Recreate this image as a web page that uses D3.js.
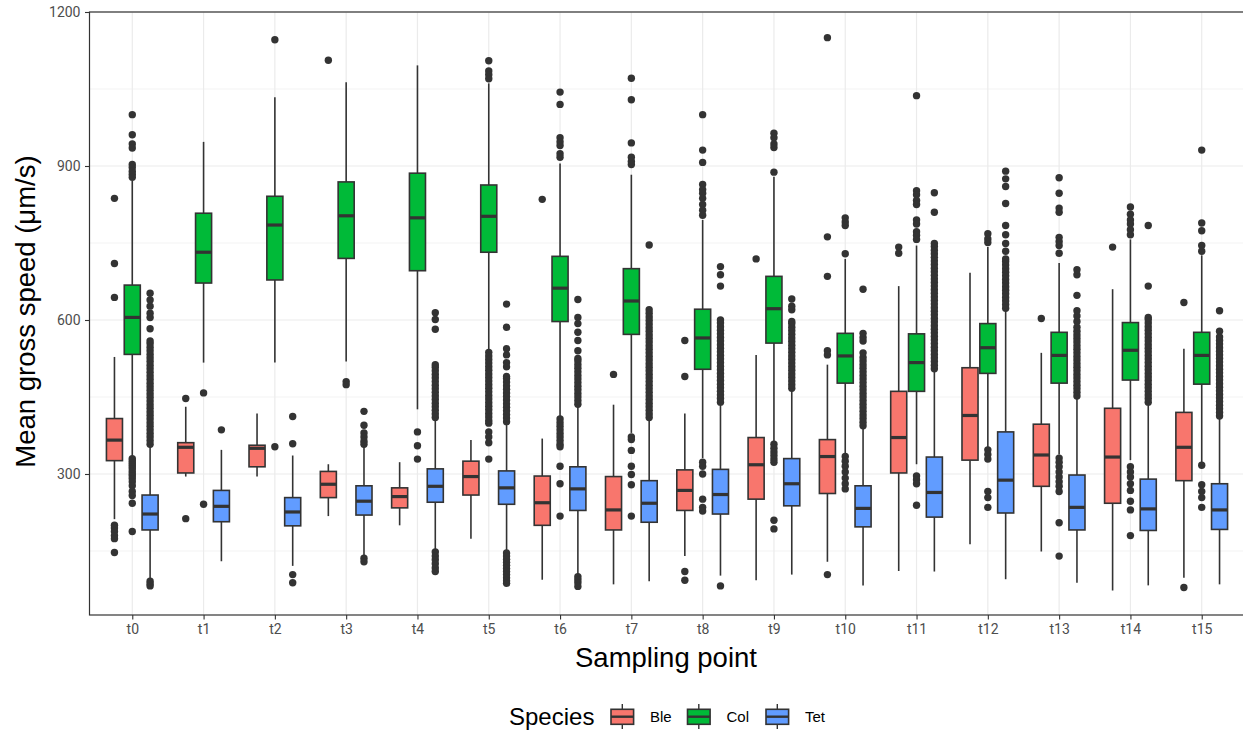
<!DOCTYPE html>
<meta charset="utf-8">
<style>
  html, body { margin: 0; padding: 0; background: #fff; overflow: hidden; }
  .axis text { font: 14px Roboto; fill: #4d4d4d; }
  .axis line { stroke: #333; stroke-width: 1.1px; }
  .title { font-family: "Liberation Sans", Arial, sans-serif; fill: #000; }
  .leg { font: 15px "Liberation Sans", Arial, sans-serif; fill: #000; }
</style>
<svg width="1243" height="735"></svg>
<script src="https://d3js.org/d3.v7.min.js"></script>
<script>

var timepoints = ["t0","t1","t2","t3","t4","t5","t6","t7","t8","t9","t10","t11","t12","t13","t14","t15"];
var species = ["Ble","Col","Tet"];
var colours = ["#F8766D","#00BA38","#619CFF"];
var yTicks = [300, 600, 900, 1200];
var yMinor = [150, 450, 750, 1050];

// [lower whisker, q1, median, q3, upper whisker]
var bleStats = [
  [212,326,366,408,528],[295,302,352,361,431],[295,314,350,356,418],[218,254,280,305,319],
  [200,234,256,273,323],[174,259,295,325,366],[94,200,244,296,369],[85,191,230,295,435],
  [140,229,268,308,418],[93,251,318,371,532],[129,262,334,367,513],[111,302,371,461,666],
  [163,327,414,507,692],[149,276,337,397,536],[73,243,333,428,660],[98,287,352,420,544]
];
var colStats = [
  [334,533,605,668,871],[517,672,732,808,947],[517,678,785,841,1034],[519,720,803,869,1063],
  [426,696,799,886,1096],[540,732,802,863,1061],[410,597,662,724,905],[380,572,637,700,883],
  [331,504,565,621,795],[363,555,622,685,879],[338,477,530,574,719],[319,461,517,573,745],
  [350,496,546,593,742],[338,477,531,576,711],[327,483,541,595,757],[323,475,531,576,726]
];
var tetStats = [
  [95,191,222,259,355],[130,207,237,268,347],[121,199,226,254,336],[140,220,247,277,353],
  [152,245,276,310,407],[148,241,273,306,399],[102,229,271,314,433],[91,206,243,287,407],
  [102,222,260,309,437],[104,238,281,330,464],[83,197,233,277,391],[110,216,264,333,502],
  [95,224,288,382,620],[88,191,235,298,449],[83,190,232,290,437],[85,192,230,281,410]
];

var bleOutliers = [
  [837,710,644,200,195,188,180,174,147],
  [447,213],
  [],
  [1106],
  [],
  [],
  [835],
  [494],
  [560,490,110,93],
  [719],
  [1150,762,685,540,532,104],
  [742,730],
  [],
  [603],
  [742],
  [634,79]
];
var colOutliers = [
  [1000,961,943,935,903,897,890,884,878,330,326,322,318,314,310,305,300,296,291,285,277,266,258,243,188],
  [458,241],
  [1146,353],
  [480,474],
  [382,355,329],
  [1105,1085,1078,1070,537,530,523,516,509,502,495,488,481,474,467,460,453,446,439,432,425,418,411,404,399,382,372,361,329],
  [1044,1020,955,947,940,924,917,407,400,393,386,379,372,365,358,353,315,281,218],
  [1071,1029,945,917,909,903,372,367,346,315,299,279,218],
  [1000,931,907,864,854,847,837,825,814,804,323,315,300,251,235,228],
  [964,955,943,936,888,358,350,343,336,329,323,210,193],
  [799,791,784,729,334,325,315,304,292,281,271],
  [1037,852,844,833,825,795,787,772,765,757,296,289,281,239],
  [768,758,751,347,338,329,266,254,235],
  [877,847,818,810,761,753,745,730,331,323,314,304,294,285,276,266,205,140],
  [820,806,795,787,776,766,314,304,294,281,268,247,230,180],
  [931,789,774,745,734,317,279,266,254,235]
];
var tetOutliers = [
  [358,365,372,379,386,393,400,407,414,421,428,435,442,449,456,463,470,477,484,491,498,505,512,519,526,533,540,547,554,559,583,605,613,627,639,652,91,86,82],
  [386],
  [412,359,104,88],
  [422,395,380,372,364,358,136,129],
  [410,417,424,431,438,445,452,459,466,473,480,487,494,501,508,513,582,601,614,148,140,133,125,117,110],
  [402,409,416,423,430,437,444,451,458,465,472,479,486,490,509,517,532,544,586,631,146,140,134,128,122,116,110,104,98,92,87],
  [436,443,450,457,464,471,478,485,492,499,506,513,520,525,540,560,576,593,605,640,100,94,88,81],
  [410,417,424,431,438,445,452,459,466,473,480,487,494,501,508,515,522,529,536,543,550,557,564,571,578,585,592,599,606,613,620,746],
  [440,447,454,461,468,475,482,489,496,503,510,517,524,531,538,545,552,559,566,573,580,587,594,600,666,688,704,82],
  [467,474,481,488,495,502,509,516,523,530,537,544,551,558,565,572,579,586,593,597,620,627,641],
  [394,401,408,415,422,429,436,443,450,457,464,471,478,485,492,499,506,513,520,527,536,559,566,574,660],
  [505,512,519,526,533,540,547,554,561,568,575,582,589,596,603,610,617,624,631,638,645,652,659,666,673,680,687,694,701,708,715,722,729,736,743,749,810,848],
  [623,630,637,644,651,658,665,672,679,686,693,700,707,714,719,734,749,766,784,827,860,875,890],
  [452,459,466,473,480,487,494,501,508,515,522,529,536,543,550,557,564,571,578,586,597,608,618,648,688,698],
  [440,447,454,461,468,475,482,489,496,503,510,517,524,531,538,545,552,559,566,573,580,587,594,601,605,666,784],
  [413,420,427,434,441,448,455,462,469,476,483,490,497,504,511,518,525,532,539,546,553,560,567,578,618]
];

var statsBy = [bleStats, colStats, tetStats];
var outBy = [bleOutliers, colOutliers, tetOutliers];

var panel = {left: 89.5, right: 1244.5, top: 12, bottom: 615};

var svg = d3.select("svg");

var x = d3.scalePoint().domain(timepoints).range([panel.left, panel.right]).padding(0.6);
var step = x.step();
var dodge = d3.scaleBand().domain(species).range([-0.375 * step, 0.375 * step]);
var boxW = dodge.bandwidth() * 0.9;
var y = d3.scaleLinear().domain([25.3, 1200]).range([panel.bottom, panel.top]);
var colour = d3.scaleOrdinal().domain(species).range(colours);

// grid
var grid = svg.append("g");
grid.selectAll(".minor").data(yMinor).enter().append("line")
  .attr("x1", panel.left).attr("x2", panel.right)
  .attr("y1", function(d) { return y(d); }).attr("y2", function(d) { return y(d); })
  .attr("stroke", "#ebebeb").attr("stroke-width", 0.6);
grid.selectAll(".major").data(yTicks).enter().append("line")
  .attr("x1", panel.left).attr("x2", panel.right)
  .attr("y1", function(d) { return y(d); }).attr("y2", function(d) { return y(d); })
  .attr("stroke", "#ebebeb").attr("stroke-width", 1.2);
grid.selectAll(".vx").data(timepoints).enter().append("line")
  .attr("x1", function(d) { return x(d); }).attr("x2", function(d) { return x(d); })
  .attr("y1", panel.top).attr("y2", panel.bottom)
  .attr("stroke", "#ebebeb").attr("stroke-width", 1.2);

// boxes
species.forEach(function(sp, si) {
  var g = svg.append("g");
  timepoints.forEach(function(t, ti) {
    var s = statsBy[si][ti];
    var cx = x(t) + dodge(sp) + dodge.bandwidth() / 2;
    g.append("line").attr("x1", cx).attr("x2", cx)
      .attr("y1", y(s[0])).attr("y2", y(s[1]))
      .attr("stroke", "#333").attr("stroke-width", 1.6);
    g.append("line").attr("x1", cx).attr("x2", cx)
      .attr("y1", y(s[3])).attr("y2", y(s[4]))
      .attr("stroke", "#333").attr("stroke-width", 1.6);
    g.append("rect")
      .attr("x", cx - boxW / 2).attr("width", boxW)
      .attr("y", y(s[3])).attr("height", y(s[1]) - y(s[3]))
      .attr("fill", colour(sp)).attr("stroke", "#333").attr("stroke-width", 1.6);
    g.append("line").attr("x1", cx - boxW / 2).attr("x2", cx + boxW / 2)
      .attr("y1", y(s[2])).attr("y2", y(s[2]))
      .attr("stroke", "#333").attr("stroke-width", 3.2);
    g.selectAll(null).data(outBy[si][ti]).enter().append("circle")
      .attr("cx", cx).attr("cy", function(d) { return y(d); })
      .attr("r", 3.7).attr("fill", "#333");
  });
});

// panel border
svg.append("rect")
  .attr("x", panel.left).attr("y", panel.top)
  .attr("width", panel.right - panel.left).attr("height", panel.bottom - panel.top)
  .attr("fill", "none").attr("stroke", "#333").attr("stroke-width", 1.2);

// axes
var yAxis = svg.append("g").attr("class", "axis")
  .attr("transform", "translate(" + panel.left + ",0)")
  .call(d3.axisLeft(y).tickValues(yTicks).tickFormat(d3.format("d")).tickSize(4.5).tickPadding(4.5));
yAxis.select(".domain").remove();

var xAxis = svg.append("g").attr("class", "axis")
  .attr("transform", "translate(0," + panel.bottom + ")")
  .call(d3.axisBottom(x).tickSize(4.5).tickPadding(5));
xAxis.select(".domain").remove();

// titles
svg.append("text").attr("class", "title")
  .attr("transform", "translate(35," + ((panel.top + panel.bottom) / 2 - 2) + ") rotate(-90)")
  .attr("text-anchor", "middle").style("font-size", "27.5px")
  .text("Mean gross speed (μm/s)");

svg.append("text").attr("class", "title")
  .attr("x", (panel.left + panel.right) / 2 - 1).attr("y", 667)
  .attr("text-anchor", "middle").style("font-size", "27.5px")
  .text("Sampling point");

// legend
var legend = svg.append("g");
legend.append("text").attr("class", "title")
  .attr("x", 509).attr("y", 725).style("font-size", "24px").text("Species");

var keyX = [611, 687.5, 766];
species.forEach(function(sp, i) {
  var k = legend.append("g").attr("transform", "translate(" + keyX[i] + ",704)");
  k.append("line").attr("x1", 11.3).attr("x2", 11.3).attr("y1", 0).attr("y2", 25)
    .attr("stroke", "#333").attr("stroke-width", 1.4);
  k.append("rect").attr("x", 0).attr("y", 5.3).attr("width", 22.6).attr("height", 15)
    .attr("fill", colour(sp)).attr("stroke", "#333").attr("stroke-width", 1.6);
  k.append("line").attr("x1", 0).attr("x2", 22.6).attr("y1", 12.7).attr("y2", 12.7)
    .attr("stroke", "#333").attr("stroke-width", 2.4);
  legend.append("text").attr("class", "leg")
    .attr("x", keyX[i] + 39).attr("y", 722).text(sp);
});
</script>
